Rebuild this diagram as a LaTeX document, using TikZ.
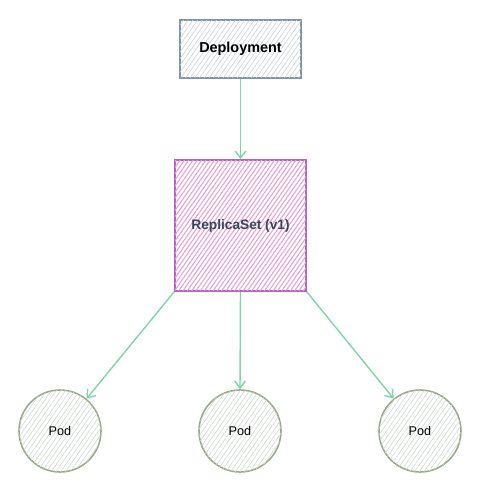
\documentclass[tikz,border=0pt]{standalone}
\usepackage{fontspec}
\setmainfont{Liberation Sans}
\usepackage{tikz}
\usetikzlibrary{arrows.meta,patterns.meta}

\definecolor{deplline}{HTML}{7F93A6}
\definecolor{deplhatch}{HTML}{C9D5DE}
\definecolor{rsline}{HTML}{B660C4}
\definecolor{rshatch}{HTML}{E6A0D6}
\definecolor{rstext}{HTML}{34495E}
\definecolor{podline}{HTML}{9AAA88}
\definecolor{podhatch}{HTML}{D3D9D3}
\definecolor{link}{HTML}{7ED6A6}

\tikzset{
  deplbox/.style={draw=deplline, line width=0.9pt, fill=white,
    postaction={pattern={Lines[angle=55,distance=2.2pt,line width=0.35pt]}, pattern color=deplhatch},
    minimum width=2.42cm, minimum height=1.16cm, font=\fontsize{8.2}{10}\selectfont\bfseries},
  rsbox/.style={draw=rsline, line width=0.9pt, fill=white,
    postaction={pattern={Lines[angle=55,distance=2pt,line width=0.6pt]}, pattern color=rshatch},
    minimum width=2.62cm, minimum height=2.62cm, text=rstext, font=\fontsize{7.8}{10}\selectfont\bfseries},
  podnode/.style={circle, draw=podline, line width=0.9pt, fill=white,
    postaction={pattern={Lines[angle=55,distance=2.2pt,line width=0.35pt]}, pattern color=podhatch},
    minimum size=1.64cm, inner sep=0pt, font=\fontsize{7.2}{8}\selectfont},
  link/.style={draw=link, line width=0.8pt, -{Straight Barb[length=4pt,width=6pt]}}
}

\begin{document}
\begin{tikzpicture}[x=0.02cm, y=-0.02cm]
	\useasboundingbox (0,0) rectangle (481,491);
	% deployment
	\node[deplbox] (depl) at (240.5,49) {Deployment};
	% replica set
	\node[rsbox] (rs) at (240.5,225.5) {ReplicaSet (v1)};
	% pods
	\node[podnode] (podl) at (60,431) {Pod};
	\node[podnode] (podm) at (240,431) {Pod};
	\node[podnode] (podr) at (420,431) {Pod};
	% links
	\draw[link] (depl.south) -- (rs.north);
	\draw[link] (rs.south west) -- (podl);
	\draw[link] (rs.south) -- (podm.north);
	\draw[link] (rs.south east) -- (podr);
\end{tikzpicture}
\end{document}
